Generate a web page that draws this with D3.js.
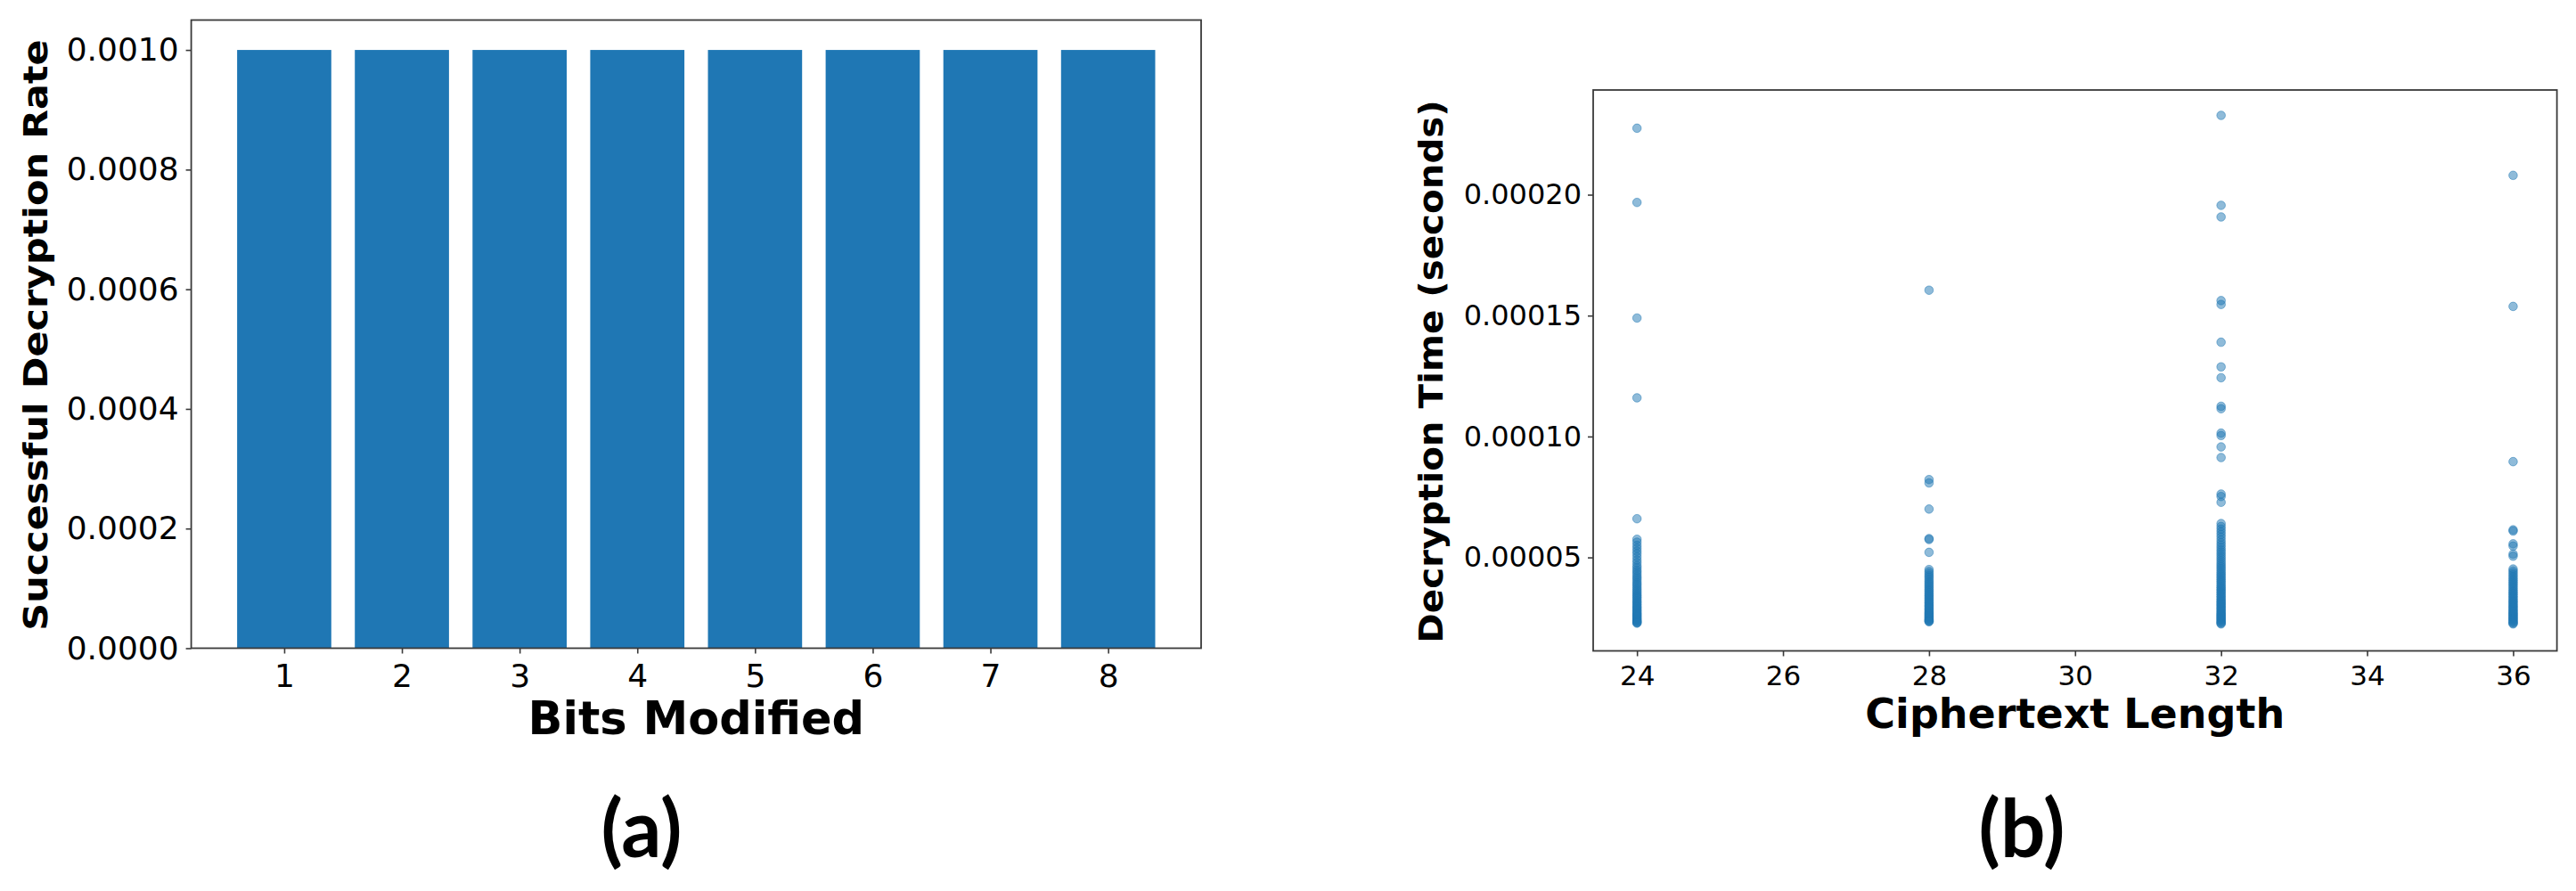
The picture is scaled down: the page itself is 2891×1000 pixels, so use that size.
<!DOCTYPE html>
<html>
<head>
<meta charset="utf-8">
<script src="https://cdn.jsdelivr.net/npm/d3@7"></script>
<style>
	body { margin: 0; background: white; }
	svg { display: block; }
	text { font-family: "DejaVu Sans", sans-serif; fill: black; }
</style>
</head>
<body>
<div id="chart"></div>
<script>
// (a) bar chart
const bitsModified = [1, 2, 3, 4, 5, 6, 7, 8];
const decryptionRate = [0.001, 0.001, 0.001, 0.001, 0.001, 0.001, 0.001, 0.001];
const rateTicks = [0, 0.0002, 0.0004, 0.0006, 0.0008, 0.0010];

// (b) scatter, one list of times per ciphertext length
const ciphertextLengths = [24, 28, 32, 36];
const lengthTicks = [24, 26, 28, 30, 32, 34, 36];
const timeTicks = [0.00005, 0.00010, 0.00015, 0.00020];

const times24 = [0.0002275, 0.0001968, 0.0001490, 0.0001160, 0.0000660,
	0.0000575, 0.0000563, 0.0000550, 0.0000538, 0.0000526, 0.0000515, 0.0000502, 0.0000489,
	0.0000478, 0.0000466, 0.0000457, 0.0000447, 0.0000439, 0.0000430, 0.0000421, 0.0000414,
	0.0000406, 0.0000397, 0.0000390, 0.0000383, 0.0000375, 0.0000368, 0.0000361, 0.0000354,
	0.0000347, 0.0000341, 0.0000335, 0.0000329, 0.0000322, 0.0000316, 0.0000311, 0.0000305,
	0.0000299, 0.0000294, 0.0000289, 0.0000284, 0.0000279, 0.0000274, 0.0000269, 0.0000265,
	0.0000261, 0.0000257, 0.0000253, 0.0000249, 0.0000245, 0.0000241, 0.0000238, 0.0000235,
	0.0000232, 0.0000230, 0.0000228];

const times28 = [0.0001605, 0.0000822, 0.0000808, 0.0000700, 0.0000578, 0.0000574, 0.0000521,
	0.0000450, 0.0000441, 0.0000433, 0.0000425, 0.0000418, 0.0000410, 0.0000402, 0.0000395,
	0.0000388, 0.0000381, 0.0000374, 0.0000367, 0.0000361, 0.0000354, 0.0000348, 0.0000342,
	0.0000336, 0.0000330, 0.0000324, 0.0000318, 0.0000313, 0.0000307, 0.0000302, 0.0000297,
	0.0000292, 0.0000287, 0.0000282, 0.0000277, 0.0000272, 0.0000268, 0.0000264, 0.0000260,
	0.0000256, 0.0000252, 0.0000248, 0.0000244, 0.0000241, 0.0000238, 0.0000236, 0.0000234];

const times32 = [0.0002328, 0.0001956, 0.0001908, 0.0001562, 0.0001546, 0.0001390, 0.0001288,
	0.0001243, 0.0001125, 0.0001115, 0.0001014, 0.0001004, 0.0000957, 0.0000913, 0.0000762,
	0.0000752, 0.0000728,
	0.0000640, 0.0000628, 0.0000617, 0.0000606, 0.0000595, 0.0000584, 0.0000572, 0.0000561,
	0.0000551, 0.0000541, 0.0000531, 0.0000522, 0.0000513, 0.0000504, 0.0000495, 0.0000486,
	0.0000477, 0.0000469, 0.0000461, 0.0000453, 0.0000445, 0.0000437, 0.0000430, 0.0000423,
	0.0000416, 0.0000409, 0.0000402, 0.0000395, 0.0000388, 0.0000381, 0.0000375, 0.0000369,
	0.0000363, 0.0000357, 0.0000351, 0.0000345, 0.0000339, 0.0000333, 0.0000327, 0.0000321,
	0.0000316, 0.0000311, 0.0000306, 0.0000301, 0.0000296, 0.0000291, 0.0000286, 0.0000281,
	0.0000276, 0.0000271, 0.0000267, 0.0000263, 0.0000259, 0.0000255, 0.0000251, 0.0000247,
	0.0000243, 0.0000239, 0.0000235, 0.0000231, 0.0000228, 0.0000225];

const times36 = [0.0002080, 0.0001538, 0.0000896, 0.0000614, 0.0000609, 0.0000556, 0.0000547,
	0.0000514, 0.0000505,
	0.0000452, 0.0000444, 0.0000436, 0.0000428, 0.0000420, 0.0000412, 0.0000405, 0.0000398,
	0.0000391, 0.0000384, 0.0000377, 0.0000370, 0.0000363, 0.0000357, 0.0000351, 0.0000345,
	0.0000339, 0.0000333, 0.0000327, 0.0000321, 0.0000316, 0.0000311, 0.0000305, 0.0000300,
	0.0000295, 0.0000290, 0.0000285, 0.0000280, 0.0000275, 0.0000271, 0.0000267, 0.0000263,
	0.0000259, 0.0000255, 0.0000251, 0.0000247, 0.0000243, 0.0000239, 0.0000235, 0.0000231,
	0.0000228, 0.0000225];

const timesByLength = [times24, times28, times32, times36];

const barColor = "#1f77b4";
const spineColor = "#3a3a3a";

const svg = d3.select("#chart")
	.append("svg")
	.attr("width", 2891)
	.attr("height", 1000);

svg.append("rect").attr("width", 2891).attr("height", 1000).attr("fill", "white");

function styleAxis(g, fontSize) {
	g.select(".domain").remove();
	g.selectAll(".tick line").attr("stroke", spineColor).attr("stroke-width", 1.6);
	g.selectAll(".tick text")
		.style("font-family", "DejaVu Sans")
		.style("font-size", fontSize + "px")
		.attr("fill", "black");
}

function frame(x0, y0, x1, y1) {
	svg.append("rect")
		.attr("x", x0).attr("y", y0)
		.attr("width", x1 - x0).attr("height", y1 - y0)
		.attr("fill", "none")
		.attr("stroke", spineColor)
		.attr("stroke-width", 1.8);
}

//----- (a) -----
const a = {left: 214.6, right: 1348, top: 22.5, bottom: 727.5};

const xA = d3.scaleLinear().domain([0.21, 8.79]).range([a.left, a.right]);
const yA = d3.scaleLinear().domain([0, 0.00105]).range([a.bottom, a.top]);

svg.append("g").selectAll("rect")
	.data(bitsModified)
	.enter()
	.append("rect")
	.attr("x", (d) => xA(d - 0.4))
	.attr("width", (d) => xA(d + 0.4) - xA(d - 0.4))
	.attr("y", (d, i) => yA(decryptionRate[i]))
	.attr("height", (d, i) => yA(0) - yA(decryptionRate[i]))
	.attr("fill", barColor);

svg.append("g")
	.attr("transform", `translate(0,${a.bottom})`)
	.call(d3.axisBottom(xA).tickValues(bitsModified).tickFormat(d3.format("d")).tickSize(6).tickPadding(12))
	.call((g) => styleAxis(g, 36));

svg.append("g")
	.attr("transform", `translate(${a.left},0)`)
	.call(d3.axisLeft(yA).tickValues(rateTicks).tickFormat(d3.format(".4f")).tickSize(6).tickPadding(8))
	.call((g) => styleAxis(g, 36));

frame(a.left, a.top, a.right, a.bottom);

svg.append("text")
	.attr("x", (a.left + a.right) / 2)
	.attr("y", 824)
	.attr("text-anchor", "middle")
	.style("font-size", "51px")
	.style("font-weight", "bold")
	.text("Bits Modified");

svg.append("text")
	.attr("transform", "translate(53,376) rotate(-90) scale(1.13,1)")
	.attr("text-anchor", "middle")
	.style("font-size", "38px")
	.style("font-weight", "bold")
	.text("Successful Decryption Rate");

//----- (b) -----
const b = {left: 1788, right: 2869.6, top: 101, bottom: 730.5};

const xB = d3.scaleLinear().domain([23.4, 36.6]).range([b.left, b.right]);
const yB = d3.scaleLinear().domain([0.00001135, 0.0002433]).range([b.bottom, b.top]);

const points = [];
ciphertextLengths.forEach((len, i) => {
	timesByLength[i].forEach((t) => points.push({len: len, t: t}));
});

svg.append("g").selectAll("circle")
	.data(points)
	.enter()
	.append("circle")
	.attr("cx", (d) => xB(d.len))
	.attr("cy", (d) => yB(d.t))
	.attr("r", 4.8)
	.attr("fill", barColor)
	.attr("fill-opacity", 0.5)
	.attr("stroke", barColor)
	.attr("stroke-opacity", 0.5)
	.attr("stroke-width", 1);

svg.append("g")
	.attr("transform", `translate(0,${b.bottom})`)
	.call(d3.axisBottom(xB).tickValues(lengthTicks).tickFormat(d3.format("d")).tickSize(6).tickPadding(10))
	.call((g) => styleAxis(g, 31));

svg.append("g")
	.attr("transform", `translate(${b.left},0)`)
	.call(d3.axisLeft(yB).tickValues(timeTicks).tickFormat(d3.format(".5f")).tickSize(6).tickPadding(7))
	.call((g) => styleAxis(g, 32));

frame(b.left, b.top, b.right, b.bottom);

svg.append("text")
	.attr("x", (b.left + b.right) / 2)
	.attr("y", 817)
	.attr("text-anchor", "middle")
	.style("font-size", "46px")
	.style("font-weight", "bold")
	.text("Ciphertext Length");

svg.append("text")
	.attr("transform", "translate(1619,417) rotate(-90) scale(1.09,1)")
	.attr("text-anchor", "middle")
	.style("font-size", "37px")
	.style("font-weight", "bold")
	.text("Decryption Time (seconds)");

//----- panel captions -----
svg.selectAll(".caption")
	.data([{label: "(a)", x: 720}, {label: "(b)", x: 2269}])
	.enter()
	.append("text")
	.attr("class", "caption")
	.attr("x", (d) => d.x)
	.attr("y", 962)
	.attr("text-anchor", "middle")
	.style("font-family", "Lato, sans-serif")
	.style("font-size", "89px")
	.style("font-weight", "bold")
	.text((d) => d.label);
</script>
</body>
</html>
